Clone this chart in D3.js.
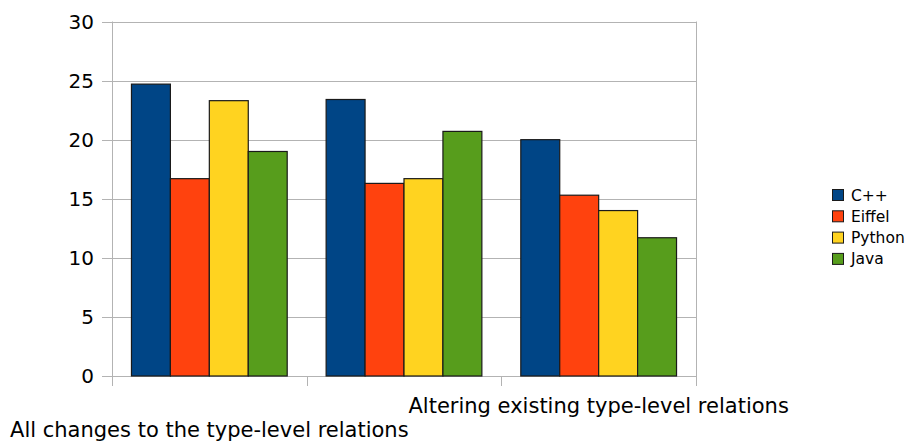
<!DOCTYPE html>
<html>
<head>
<meta charset="utf-8">
<script src="https://cdn.jsdelivr.net/npm/d3@7"></script>
<style>
  html, body { margin: 0; padding: 0; background: #ffffff; }
  svg { display: block; font-family: "DejaVu Sans", sans-serif; }
</style>
</head>
<body>
<svg id="chart" width="907" height="443"></svg>
<script>
// Category names along the x axis (the middle group has no caption)
const categories = [
  "All changes to the type-level relations",
  "",
  "Altering existing type-level relations"
];
const seriesNames = ["C++", "Eiffel", "Python", "Java"];
const seriesColors = ["#004586", "#ff420e", "#ffd320", "#579d1c"];
// Values per series, one per category
const cppValues    = [24.7, 23.4, 20.0];
const eiffelValues = [16.7, 16.3, 15.3];
const pythonValues = [23.3, 16.7, 14.0];
const javaValues   = [19.0, 20.7, 11.7];
const yTicks = [0, 5, 10, 15, 20, 25, 30];

const seriesValues = [cppValues, eiffelValues, pythonValues, javaValues];

const svg = d3.select("#chart");
const plot = { left: 112, right: 696, top: 21.5, bottom: 376 };

const x0 = d3.scaleBand()
  .domain(d3.range(categories.length))
  .range([plot.left, plot.right])
  .paddingInner(0.2)
  .paddingOuter(0.1);
const x1 = d3.scaleBand()
  .domain(d3.range(seriesNames.length))
  .range([0, x0.bandwidth()]);
const y = d3.scaleLinear().domain([0, 30]).range([plot.bottom, plot.top]);

const gridColor = "#b3b3b3";

// horizontal gridlines
svg.append("g")
  .selectAll("line")
  .data(yTicks)
  .join("line")
  .attr("x1", plot.left - 10)
  .attr("x2", plot.right)
  .attr("y1", d => Math.round(y(d)) + 0.5)
  .attr("y2", d => Math.round(y(d)) + 0.5)
  .attr("stroke", gridColor)
  .attr("stroke-width", 1);

// right border
svg.append("line")
  .attr("x1", plot.right + 0.5).attr("x2", plot.right + 0.5)
  .attr("y1", y(30)).attr("y2", plot.bottom + 10)
  .attr("stroke", gridColor);

// y axis line
svg.append("line")
  .attr("x1", plot.left + 0.5).attr("x2", plot.left + 0.5)
  .attr("y1", y(30)).attr("y2", plot.bottom + 10)
  .attr("stroke", gridColor);

// category separators below the axis
const step = (plot.right - plot.left) / categories.length;
svg.append("g")
  .selectAll("line")
  .data(d3.range(1, categories.length))
  .join("line")
  .attr("x1", d => Math.round(plot.left + d * step) + 0.5)
  .attr("x2", d => Math.round(plot.left + d * step) + 0.5)
  .attr("y1", plot.bottom)
  .attr("y2", plot.bottom + 10)
  .attr("stroke", gridColor);

// y tick labels
svg.append("g")
  .selectAll("text")
  .data(yTicks)
  .join("text")
  .attr("x", 94)
  .attr("y", d => y(d))
  .attr("dy", "0.36em")
  .attr("text-anchor", "end")
  .attr("font-size", 20)
  .attr("fill", "#000")
  .text(d => d);

// bars
const groups = svg.append("g")
  .selectAll("g")
  .data(categories.map((c, i) => i))
  .join("g")
  .attr("transform", i => `translate(${x0(i)},0)`);

groups.selectAll("rect")
  .data(i => seriesValues.map((vals, s) => ({ s, v: vals[i] })))
  .join("rect")
  .attr("x", d => x1(d.s))
  .attr("y", d => y(d.v))
  .attr("width", x1.bandwidth())
  .attr("height", d => plot.bottom - y(d.v))
  .attr("fill", d => seriesColors[d.s])
  .attr("stroke", "#1a1a1a")
  .attr("stroke-width", 1.2);

// category labels, staggered on two rows
const labelRows = [437, 413, 413];
svg.append("g")
  .selectAll("text")
  .data(categories.map((c, i) => i))
  .join("text")
  .attr("x", i => x0(i) + x0.bandwidth() / 2)
  .attr("y", i => labelRows[i])
  .attr("text-anchor", "middle")
  .attr("font-size", 21)
  .attr("fill", "#000")
  .text(i => categories[i]);

// legend
const legend = svg.append("g")
  .selectAll("g")
  .data(seriesNames.map((n, i) => i))
  .join("g")
  .attr("transform", i => `translate(832,${195 + i * 21.3})`);

legend.append("rect")
  .attr("x", 0.5).attr("y", -5.5)
  .attr("width", 11).attr("height", 11)
  .attr("fill", i => seriesColors[i])
  .attr("stroke", "#1a1a1a");

legend.append("text")
  .attr("x", 19)
  .attr("y", 0)
  .attr("dy", "0.36em")
  .attr("font-size", 15.5)
  .attr("fill", "#000")
  .text(i => seriesNames[i]);
</script>
</body>
</html>
